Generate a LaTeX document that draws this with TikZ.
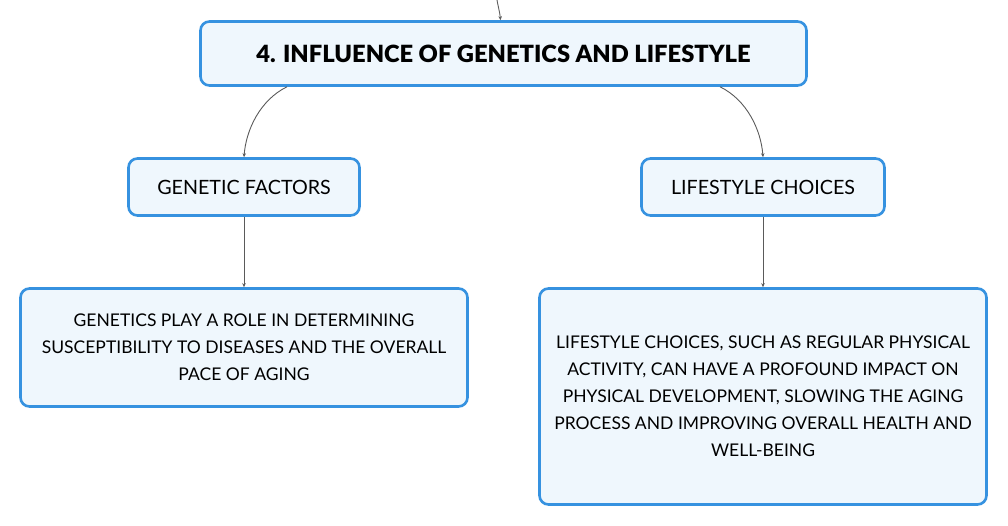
\documentclass[tikz,border=0pt]{standalone}
\usepackage{fontspec}
\setmainfont{Lato}
\newfontfamily\latoblack{Lato Black}
\usetikzlibrary{arrows.meta}
\definecolor{boxblue}{HTML}{3692E0}
\definecolor{boxfill}{HTML}{EFF7FD}
\definecolor{linegray}{HTML}{5A5A5A}
\tikzset{
  box/.style={draw=boxblue, fill=boxfill, line width=2.6pt, rounded corners=9pt, inner sep=0pt, align=center, text=black},
  conn/.style={draw=linegray, line width=0.9pt, -{Stealth[length=4pt,width=3.5pt]}},
  headtxt/.style={font=\fontsize{19.7}{24}\selectfont},
  bodytxt/.style={font=\fontsize{17.5}{27}\selectfont},
}
\begin{document}
\begin{tikzpicture}[x=1pt,y=-1pt]
\useasboundingbox (0,0) rectangle (1008,526);
\node[box, minimum width=606pt, minimum height=64pt, font=\fontsize{23.7}{27}\latoblack] (main) at (503.5,53.5) {4. INFLUENCE OF GENETICS AND LIFESTYLE};
\node[box, headtxt, minimum width=231pt, minimum height=57pt] (gen) at (244,187) {GENETIC FACTORS};
\node[box, headtxt, minimum width=243pt, minimum height=57pt] (life) at (763,187) {LIFESTYLE CHOICES};
\node[box, bodytxt, minimum width=447pt, minimum height=118pt] (gentxt) at (244,347.5) {GENETICS PLAY A ROLE IN DETERMINING\\SUSCEPTIBILITY TO DISEASES AND THE OVERALL\\PACE OF AGING};
\node[box, bodytxt, minimum width=447pt, minimum height=216pt] (lifetxt) at (763,396.5) {LIFESTYLE CHOICES, SUCH AS REGULAR PHYSICAL\\ACTIVITY, CAN HAVE A PROFOUND IMPACT ON\\PHYSICAL DEVELOPMENT, SLOWING THE AGING\\PROCESS AND IMPROVING OVERALL HEALTH AND\\WELL-BEING};
\coordinate (top) at (497,0);
\coordinate (ml) at ([xshift=-216.5pt]main.south);
\coordinate (mr) at ([xshift=216.5pt]main.south);
\draw[conn] (top) to[out=-80,in=95] ([xshift=-3pt]main.north);
\draw[conn] (ml) .. controls (260,100) and (246,130) .. (gen.north);
\draw[conn] (mr) .. controls (747,100) and (761,130) .. (life.north);
\draw[conn] (gen.south) -- (gentxt.north);
\draw[conn] (life.south) -- (lifetxt.north);
\end{tikzpicture}
\end{document}
